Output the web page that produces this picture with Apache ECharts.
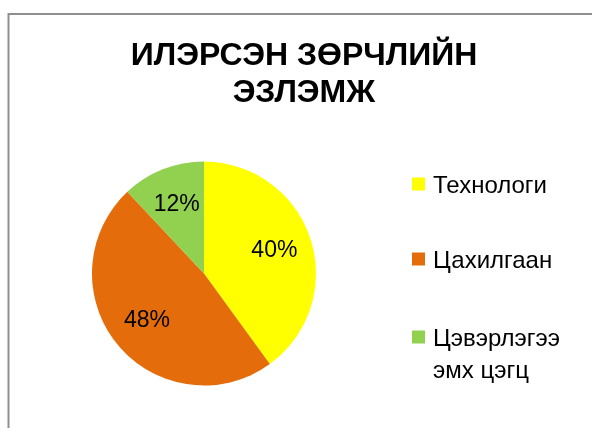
<!DOCTYPE html>
<html>
<head>
<meta charset="utf-8">
<script src="https://cdn.jsdelivr.net/npm/echarts@6/dist/echarts.min.js"></script>
<style>
html,body{margin:0;padding:0;background:#fff;}
#chart{width:592px;height:428px;}
</style>
</head>
<body>
<div id="chart"></div>
<script>
var titleText = 'ИЛЭРСЭН ЗӨРЧЛИЙН\nЭЗЛЭМЖ';
var categories = ['Технологи', 'Цахилгаан', 'Цэвэрлэгээ эмх цэгц'];
var legendLabels = [['Технологи'], ['Цахилгаан'], ['Цэвэрлэгээ', 'эмх цэгц']];
var values = [40, 48, 12];
var colors = ['#FFFF00', '#E46C0A', '#92D050'];

var FONT = '"Liberation Sans", Arial, sans-serif';
var chart = echarts.init(document.getElementById('chart'), null, {renderer: 'canvas'});

var mainData = categories.map(function (c, i) {
  return {name: c, value: values[i], itemStyle: {color: colors[i]}};
});
var labelData = categories.map(function (c, i) {
  return {name: c, value: values[i]};
});

var legendTops = [167, 242, 303];
var legends = categories.map(function (c, i) {
  var lines = legendLabels[i];
  var spacer = lines.length > 1 ? 'sp2' : 'sp1';
  return {
    data: [c],
    orient: 'vertical',
    left: 412,
    top: legendTops[i],
    padding: 0,
    itemWidth: 13,
    itemHeight: 13,
    icon: 'rect',
    selectedMode: false,
    formatter: function () {
      return '{' + spacer + '| }\n' + lines.map(function (l, k) { return '{' + (k ? 't2' : 't') + '|' + l + '}'; }).join('\n');
    },
    textStyle: {
      fontFamily: FONT,
      fontSize: 24,
      color: '#000',
      rich: {
        sp1: {fontSize: 4, lineHeight: 5},
        sp2: {fontSize: 4, lineHeight: 39},
        t: {fontFamily: FONT, fontSize: 24, lineHeight: 30, color: '#000', padding: [0, 0, 0, 3]},
        t2: {fontFamily: FONT, fontSize: 24, lineHeight: 34, color: '#000', padding: [0, 0, 0, 3]}
      }
    }
  };
});

chart.setOption({
  animation: false,
  backgroundColor: '#fff',
  title: {
    text: titleText,
    left: 304,
    top: 38,
    padding: 0,
    textAlign: 'center',
    textStyle: {
      fontFamily: FONT,
      fontSize: 32,
      fontWeight: 'bold',
      color: '#000',
      lineHeight: 37
    }
  },
  legend: legends,
  graphic: [{
    type: 'rect',
    silent: true,
    shape: {x: 8.5, y: 14, width: 700, height: 600},
    style: {fill: 'none', stroke: '#8f8f8f', lineWidth: 2}
  }],
  series: [{
    type: 'pie',
    center: [204, 273.5],
    radius: 112,
    startAngle: 90,
    clockwise: true,
    silent: true,
    label: {show: false},
    labelLine: {show: false},
    itemStyle: {borderWidth: 0},
    emphasis: {disabled: true},
    data: mainData
  }, {
    type: 'pie',
    center: [204, 273.5],
    radius: 142,
    startAngle: 90,
    clockwise: true,
    silent: true,
    itemStyle: {color: 'rgba(0,0,0,0)', borderWidth: 0},
    emphasis: {disabled: true},
    labelLine: {show: false},
    label: {
      show: true,
      position: 'inside',
      formatter: '{d}%',
      fontFamily: FONT,
      fontSize: 23,
      color: '#000'
    },
    data: labelData
  }]
});
</script>
</body>
</html>
